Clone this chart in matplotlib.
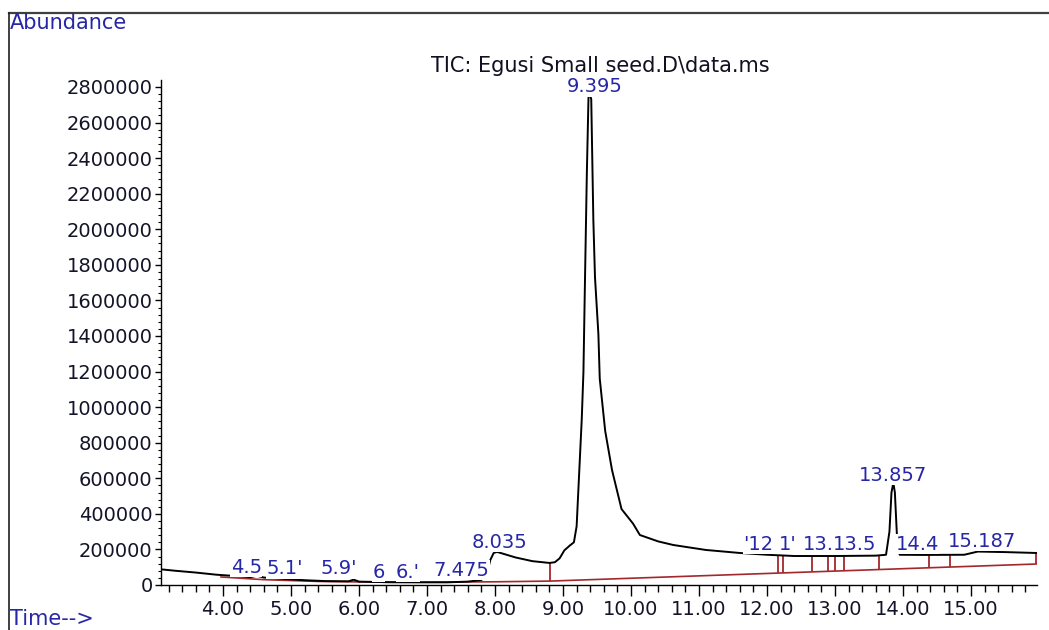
import numpy as np
import matplotlib
matplotlib.use("Agg")
import matplotlib.pyplot as plt
from matplotlib.lines import Line2D
from matplotlib.ticker import MultipleLocator, FixedLocator

# ---- data ----
time_min = [3.09, 3.3, 3.6, 3.9, 4.2, 4.4, 4.5, 4.6, 4.9, 5.2, 5.5, 5.85, 5.92, 6.0,
            6.4, 6.9, 7.3, 7.6, 7.8, 7.88, 7.93, 7.98, 8.03, 8.1, 8.3, 8.55, 8.8,
            8.88, 8.95, 9.02, 9.1, 9.16, 9.2, 9.275, 9.30, 9.32, 9.35, 9.375, 9.395,
            9.415, 9.43, 9.446, 9.47, 9.52, 9.54, 9.62, 9.72, 9.86, 10.03, 10.13,
            10.4, 10.62, 11.1, 11.6, 12.0, 12.4, 13.0, 13.6, 13.75, 13.8, 13.83,
            13.857, 13.88, 13.91, 13.95, 14.3, 14.9, 15.1, 15.5, 15.96]
abundance = [88000, 80000, 70000, 58000, 50000, 44000, 52000, 42000, 34000, 27000,
             22000, 21000, 30000, 19000, 16000, 15000, 15000, 19000, 28000, 60000,
             140000, 180000, 186000, 178000, 155000, 134000, 124000, 128000, 150000,
             195000, 222000, 240000, 330000, 930000, 1195000, 1650000, 2310000,
             2750000, 2760000, 2730000, 2400000, 2050000, 1730000, 1410000, 1160000,
             866000, 647000, 427000, 345000, 281000, 245000, 225000, 197000, 180000,
             170000, 163000, 163000, 165000, 170000, 300000, 520000, 575000, 520000,
             280000, 170000, 169000, 170000, 188000, 185000, 180000]

baseline_time = [3.97, 4.6, 5.4, 6.5, 8.0, 8.81, 15.96]
baseline_abund = [45000, 30000, 20000, 15000, 18000, 22000, 118000]

drop_times = [8.81, 12.16, 12.24, 12.66, 12.90, 13.00, 13.13, 13.65, 14.38, 14.69, 15.96]
drop_tops = [124000, 163000, 163000, 163000, 163000, 163000, 163000, 163000, 169000, 169000, 180000]

peak_labels = ["4.5", "5.1'", "5.9'", "6", "6.'", "7.475", "8.035", "9.395",
               "'12", "1'", "13.", "13.5", "13.857", "14.4", "15.187"]
label_time = [4.34, 4.91, 5.70, 6.29, 6.72, 7.51, 8.07, 9.46,
              11.87, 12.31, 12.75, 13.29, 13.85, 14.21, 15.16]
label_abund = [100000, 90000, 90000, 72000, 72000, 84000, 240000, 2800000,
               230000, 230000, 230000, 230000, 618000, 230000, 245000]

x_major = [4, 5, 6, 7, 8, 9, 10, 11, 12, 13, 14, 15]
x_labels = ["4.00", "5.00", "6.00", "7.00", "8.00", "9.00", "10.00", "11.00",
            "12.00", "13.00", "14.00", "15.00"]
y_major = [0, 200000, 400000, 600000, 800000, 1000000, 1200000, 1400000,
           1600000, 1800000, 2000000, 2200000, 2400000, 2600000, 2800000]
y_labels = [str(v) for v in y_major]

# ---- figure ----
W, H = 1049, 630
fig = plt.figure(figsize=(W / 100, H / 100), dpi=100)
plt.rcParams['font.family'] = ['DejaVu Sans']

ax = fig.add_axes([161 / W, 1 - 585 / H, (1037 - 161) / W, (585 - 80) / H])
ax.set_xlim(3.088, 15.97)
ax.set_ylim(0, 2839000)

blue = "#2626a6"
red = "#a3282c"
tick_col = "#141428"

ax.plot(time_min, abundance, color="black", lw=1.4, zorder=3)
ax.plot(baseline_time, baseline_abund, color=red, lw=1.2, zorder=2)
drop_bottoms = np.interp(drop_times, baseline_time, baseline_abund)
ax.vlines(drop_times, drop_bottoms, drop_tops, color=red, lw=1.3, zorder=2)

for s, t, a in zip(peak_labels, label_time, label_abund):
    ax.text(t, a, s, color=blue, fontsize=14, ha="center", va="center", zorder=5,
            bbox=dict(facecolor="white", edgecolor="none", pad=0.3))

for sp in ["top", "right"]:
    ax.spines[sp].set_visible(False)
ax.spines["left"].set_linewidth(1.0)
ax.spines["bottom"].set_linewidth(1.0)

ax.xaxis.set_major_locator(FixedLocator(x_major))
ax.set_xticklabels(x_labels)
ax.xaxis.set_minor_locator(MultipleLocator(0.2))
ax.yaxis.set_major_locator(FixedLocator(y_major))
ax.set_yticklabels(y_labels)
ax.yaxis.set_minor_locator(MultipleLocator(40000))

ax.tick_params(axis="x", which="major", length=8, width=1.0, pad=3,
               labelsize=14, labelcolor=tick_col, color="black")
ax.tick_params(axis="x", which="minor", length=5, width=1.0, color="black")
ax.tick_params(axis="y", which="major", length=4, width=1.0, pad=2,
               labelsize=14, labelcolor=tick_col, color="black")
ax.tick_params(axis="y", which="minor", length=2.5, width=0.8, color="black")

# title and frame texts
fig.text(600 / W, 1 - 66 / H, "TIC: Egusi Small seed.D\\data.ms", ha="center",
         va="center", fontsize=15, color="#101020")
fig.text(10 / W, 1 - 23 / H, "Abundance", ha="left", va="center", fontsize=15, color=blue)
fig.text(10 / W, 1 - 619 / H, "Time-->", ha="left", va="center", fontsize=15, color=blue)

# outer frame lines (top and left)
fig.add_artist(Line2D([9 / W, 1.0], [1 - 13 / H, 1 - 13 / H], transform=fig.transFigure,
                      color="#404040", lw=1.6))
fig.add_artist(Line2D([9 / W, 9 / W], [1 - 13 / H, 0.0], transform=fig.transFigure,
                      color="#202020", lw=1.2))

fig.savefig("out.png", dpi=100)
